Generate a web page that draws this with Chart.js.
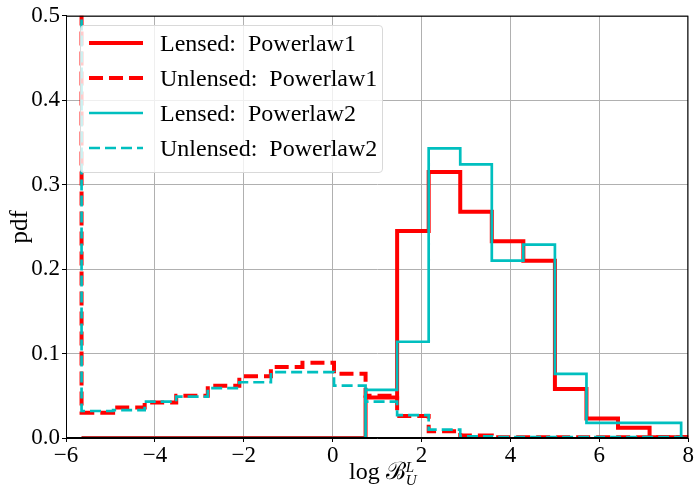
<!DOCTYPE html>
<html>
<head>
    <meta charset="UTF-8">
    <title>pdf of log B</title>
    <script src="https://cdn.jsdelivr.net/npm/chart.js@4.4.0/dist/chart.umd.min.js"></script>
    <style>
        body { margin: 0; background: #fff; }
        #wrap { position: relative; width: 694px; height: 495px; }
        #legend {
            position: absolute; left: 80px; top: 25px; width: 303px; height: 148px;
            background: rgba(255,255,255,0.8); border: 1px solid #d9d9d9; border-radius: 4px;
            box-sizing: border-box;
            font-family: "Liberation Serif", serif; font-size: 24px; color: #000;
        }
        .row { position: absolute; left: 0; height: 35px; line-height: 35px; width: 100%; }
        .row svg { position: absolute; left: 7px; top: 12px; }
        .row span { position: absolute; left: 79px; white-space: nowrap; }
        #xlabel {
            position: absolute; left: 349px; top: 453px;
            font-family: "Liberation Serif", serif; font-size: 24px; color: #000; white-space: nowrap;
        }
        #xlabel .ss { display: inline-block; vertical-align: -6px; line-height: 13px; font-size: 15px; font-style: italic; }
    </style>
</head>
<body>
<div id="wrap">
    <canvas id="myChart" width="694" height="495"></canvas>
    <div id="legend">
        <div class="row" style="top:0px"><svg width="56" height="10"><line x1="1" y1="5" x2="55" y2="5" stroke="#ff0000" stroke-width="4"/></svg><span>Lensed: &nbsp;Powerlaw1</span></div>
        <div class="row" style="top:35px"><svg width="56" height="10"><line x1="1" y1="5" x2="55" y2="5" stroke="#ff0000" stroke-width="4" stroke-dasharray="14 6"/></svg><span>Unlensed: &nbsp;Powerlaw1</span></div>
        <div class="row" style="top:70px"><svg width="56" height="10"><line x1="1" y1="5" x2="55" y2="5" stroke="#00bfbf" stroke-width="2.7"/></svg><span>Lensed: &nbsp;Powerlaw2</span></div>
        <div class="row" style="top:105px"><svg width="56" height="10"><line x1="1" y1="5" x2="55" y2="5" stroke="#00bfbf" stroke-width="2.7" stroke-dasharray="11 5"/></svg><span>Unlensed: &nbsp;Powerlaw2</span></div>
    </div>
    <div id="xlabel">log <span style="font-family:'DejaVu Serif',serif;font-size:24px">ℬ</span><span class="ss">L<br>U</span></div>
</div>

<script>
    // bin edges (bin width about 0.71)
    const binEdges = [-5.65, -4.94, -4.23, -3.52, -2.81, -2.10, -1.39, -0.68, 0.03, 0.74,
                      1.45, 2.16, 2.87, 3.58, 4.29, 5.00, 5.71, 6.42, 7.13, 7.84, 8.55];

    const lensedP1   = [0, 0, 0, 0, 0, 0, 0, 0, 0, 0.048, 0.245, 0.315, 0.268, 0.233, 0.210, 0.058, 0.023, 0.012, 0.001, 0.001];
    const unlensedP1 = [0.030, 0.036, 0.042, 0.050, 0.062, 0.073, 0.084, 0.089, 0.076, 0.050, 0.026, 0.008, 0.003, 0.001, 0.001, 0.001, 0.001, 0.001, 0.001, 0.001];
    const lensedP2   = [0, 0, 0, 0, 0, 0, 0, 0, 0, 0.057, 0.114, 0.343, 0.324, 0.210, 0.229, 0.076, 0.018, 0.018, 0.018, 0];
    const unlensedP2 = [0.032, 0.033, 0.043, 0.049, 0.059, 0.066, 0.078, 0.078, 0.062, 0.043, 0.027, 0.010, 0.002, 0.001, 0.001, 0.001, 0.001, 0.001, 0.001, 0];

    // unlensed runs have a huge first spike at the lower edge (off the scale)
    const unlensedSpike = 1.5;

    const xTicks = [-6, -4, -2, 0, 2, 4, 6, 8];
    const yTicks = [0.0, 0.1, 0.2, 0.3, 0.4, 0.5];

    function stepPoints(edges, heights, start) {
        var pts = [{ x: edges[0], y: start }];
        heights.forEach(function (h, i) {
            pts.push({ x: edges[i], y: h });
            pts.push({ x: edges[i + 1], y: h });
        });
        pts.push({ x: edges[heights.length], y: 0 });
        return pts;
    }

    const serif = "'Liberation Serif', serif";

    const frame = {
        id: 'frame',
        afterDraw: function (chart) {
            var a = chart.chartArea, c = chart.ctx;
            c.save();
            c.strokeStyle = '#000';
            c.lineWidth = 1;
            c.strokeRect(a.left + 0.5, a.top + 0.5, a.right - a.left - 1, a.bottom - a.top - 1);
            c.restore();
        }
    };

    function ds(label, data, color, width, dash, order) {
        return {
            label: label, data: data, borderColor: color, borderWidth: width,
            borderDash: dash, pointRadius: 0, fill: false, tension: 0, order: order,
            borderJoinStyle: 'miter', borderCapStyle: 'butt'
        };
    }

    new Chart(document.getElementById('myChart').getContext('2d'), {
        type: 'line',
        data: {
            datasets: [
                ds('Lensed: Powerlaw1', stepPoints(binEdges, lensedP1, 0), '#ff0000', 4, [], 3),
                ds('Unlensed: Powerlaw1', stepPoints(binEdges, unlensedP1, unlensedSpike), '#ff0000', 4, [14, 6], 2),
                ds('Lensed: Powerlaw2', stepPoints(binEdges, lensedP2, 0), '#00bfbf', 2.7, [], 1),
                ds('Unlensed: Powerlaw2', stepPoints(binEdges, unlensedP2, unlensedSpike), '#00bfbf', 2.7, [11, 5], 0)
            ]
        },
        options: {
            responsive: false,
            animation: false,
            layout: { padding: { top: 12, right: 4, left: 0, bottom: 0 } },
            plugins: { legend: { display: false }, tooltip: { enabled: false } },
            scales: {
                x: {
                    type: 'linear', min: -6, max: 8,
                    afterBuildTicks: function (s) { s.ticks = xTicks.map(function (v) { return { value: v }; }); },
                    afterFit: function (s) { s.height = 57; },
                    ticks: {
                        color: '#000', font: { family: serif, size: 23 }, padding: 0, maxRotation: 0,
                        callback: function (v) { return v < 0 ? '\u2212' + Math.abs(v) : String(v); }
                    },
                    grid: { color: '#b0b0b0', lineWidth: 1, tickLength: 4, tickColor: '#000' },
                    border: { color: '#000', width: 1 }
                },
                y: {
                    min: 0, max: 0.5,
                    afterBuildTicks: function (s) { s.ticks = yTicks.map(function (v) { return { value: v }; }); },
                    afterFit: function (s) { s.width = 66; },
                    ticks: {
                        color: '#000', font: { family: serif, size: 23 }, padding: 2,
                        callback: function (v) { return v.toFixed(1); }
                    },
                    grid: { color: '#b0b0b0', lineWidth: 1, tickLength: 4, tickColor: '#000' },
                    border: { color: '#000', width: 1 },
                    title: { display: true, text: 'pdf', color: '#000', font: { family: serif, size: 25 }, padding: { top: 5, bottom: 0 } }
                }
            }
        },
        plugins: [frame]
    });
</script>
</body>
</html>
